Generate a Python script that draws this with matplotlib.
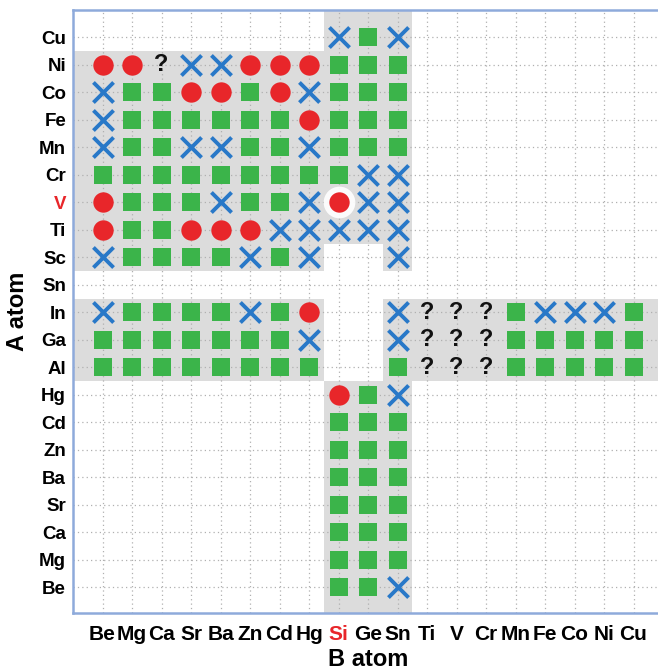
import matplotlib
matplotlib.use('Agg')
import matplotlib.pyplot as plt
from matplotlib.patches import Rectangle

plt.rcParams['font.family'] = ['Liberation Sans', 'DejaVu Sans']
plt.rcParams['font.weight'] = 'bold'

b_atoms = ['Be', 'Mg', 'Ca', 'Sr', 'Ba', 'Zn', 'Cd', 'Hg', 'Si', 'Ge', 'Sn',
           'Ti', 'V', 'Cr', 'Mn', 'Fe', 'Co', 'Ni', 'Cu']
a_atoms = ['Cu', 'Ni', 'Co', 'Fe', 'Mn', 'Cr', 'V', 'Ti', 'Sc', 'Sn',
           'In', 'Ga', 'Al', 'Hg', 'Cd', 'Zn', 'Ba', 'Sr', 'Ca', 'Mg', 'Be']

# S = square (green), C = circle (red), X = cross (blue), Q = '?', . = empty
outcomes = [
    "........XSX........",  # Cu
    "CCQXXCCCSSS........",  # Ni
    "XSSCCSCXSSS........",  # Co
    "XSSSSSSCSSS........",  # Fe
    "XSSXXSSXSSS........",  # Mn
    "SSSSSSSSSXX........",  # Cr
    "CSSSXSSXCXX........",  # V
    "CSSCCCXXXXX........",  # Ti
    "XSSSSXSX..X........",  # Sc
    "...................",  # Sn
    "XSSSSXSC..XQQQSXXXS",  # In
    "SSSSSSSX..XQQQSSSSS",  # Ga
    "SSSSSSSS..SQQQSSSSS",  # Al
    "........CSX........",  # Hg
    "........SSS........",  # Cd
    "........SSS........",  # Zn
    "........SSS........",  # Ba
    "........SSS........",  # Sr
    "........SSS........",  # Ca
    "........SSS........",  # Mg
    "........SSX........",  # Be
]
highlight = ('V', 'Si')
red_a = 'V'
red_b = 'Si'

fig = plt.figure(figsize=(6.58, 6.70), dpi=100)
ax = fig.add_axes([73 / 658, 57 / 670, 585 / 658, 603 / 670])

xmin, xmax = -1.0, 18.83
ymin, ymax = -1.0, 20.93
ax.set_xlim(xmin, xmax)
ax.set_ylim(ymax, ymin)

# shaded blocks (x0, x1, y0, y1) in category units
blocks = [
    (xmin, 10.5, 0.5, 7.5),
    (xmin, 7.5, 7.5, 8.5),
    (9.5, 10.5, 7.5, 8.5),
    (7.5, 10.5, ymin, 0.5),
    (xmin, 7.5, 9.5, 12.5),
    (9.5, xmax, 9.5, 12.5),
    (7.5, 10.5, 12.5, ymax),
]
for x0, x1, y0, y1 in blocks:
    ax.add_patch(Rectangle((x0, y0), x1 - x0, y1 - y0, facecolor='#dcdcdc',
                           edgecolor='none', zorder=0))

for i in range(len(b_atoms)):
    ax.axvline(i, color='#b0b0b0', lw=0.9, ls=(0, (1, 2.5)), zorder=1)
for j in range(len(a_atoms)):
    ax.axhline(j, color='#b0b0b0', lw=0.9, ls=(0, (1, 2.5)), zorder=1)

styles = {
    'S': dict(marker='s', s=150, color='#3bb44a', linewidths=0),
    'C': dict(marker='o', s=215, color='#e8262a', linewidths=0),
    'X': dict(marker='x', s=210, color='#2878c8', linewidths=2.8),
}
for code, kw in styles.items():
    xs, ys = [], []
    for j, row in enumerate(outcomes):
        for i, c in enumerate(row):
            if c == code:
                xs.append(i)
                ys.append(j)
    ax.scatter(xs, ys, zorder=4, **kw)

for j, row in enumerate(outcomes):
    for i, c in enumerate(row):
        if c == 'Q':
            ax.text(i, j, '?', ha='center', va='center', fontsize=17,
                    fontweight='bold', color='#111111', zorder=4)

hx = b_atoms.index(highlight[1])
hy = a_atoms.index(highlight[0])
ax.scatter([hx], [hy], marker='o', s=520, color='white', alpha=0.9,
           linewidths=0, zorder=3)

ax.set_xticks(range(len(b_atoms)), b_atoms, fontsize=15, fontweight='bold')
ax.set_yticks(range(len(a_atoms)), a_atoms, fontsize=13.5, fontweight='bold')
ax.tick_params(axis='x', length=0, pad=9)
ax.tick_params(axis='y', length=0, pad=5)
for lbl in ax.get_xticklabels():
    if lbl.get_text() == red_b:
        lbl.set_color('#e8262a')
for lbl in ax.get_yticklabels():
    if lbl.get_text() == red_a:
        lbl.set_color('#e8262a')

for side in ['left', 'top', 'bottom']:
    ax.spines[side].set_color('#8eaadb')
    ax.spines[side].set_linewidth(1.8)
ax.spines['right'].set_visible(False)

fig.text(18 / 658, 1 - 311 / 670, 'A atom', rotation=90, ha='center',
         va='center', fontsize=17, fontweight='bold')
fig.text(368 / 658, 1 - 659 / 670, 'B atom', ha='center', va='center',
         fontsize=17, fontweight='bold')

fig.savefig('out.png', dpi=100)
